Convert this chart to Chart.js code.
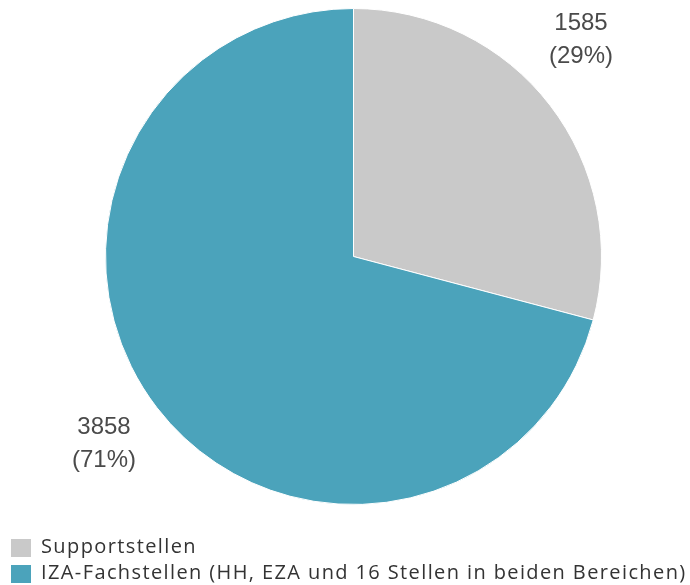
<!DOCTYPE html>
<html>
<head>
<meta charset="utf-8">
<script src="https://cdn.jsdelivr.net/npm/chart.js@4.4.1/dist/chart.umd.min.js"></script>
<style>
  html, body { margin: 0; padding: 0; background: #fff; }
  #wrap { width: 690px; height: 585px; position: relative; }
</style>
</head>
<body>
<div id="wrap"><canvas id="pie" width="690" height="585"></canvas></div>
<script>
const categories = ['Supportstellen', 'IZA-Fachstellen (HH, EZA und 16 Stellen in beiden Bereichen)'];
const counts = [1585, 3858];
const percentLabels = ['(29%)', '(71%)'];
const sliceColors = ['#c9c9c9', '#4ba3bb'];

// value labels outside each slice, placed along the slice's mid angle
const outsideLabels = {
  id: 'outsideLabels',
  afterDatasetsDraw(chart, args, opts) {
    const ctx = chart.ctx;
    const meta = chart.getDatasetMeta(0);
    ctx.save();
    ctx.font = '24px "Liberation Sans", Arial, sans-serif';
    ctx.fillStyle = '#4a4a4a';
    ctx.textAlign = 'center';
    ctx.textBaseline = 'middle';
    meta.data.forEach((arc, i) => {
      const p = arc.getProps(['x', 'y', 'startAngle', 'endAngle', 'outerRadius'], true);
      const mid = (p.startAngle + p.endAngle) / 2;
      const r = p.outerRadius * opts.distance;
      const nudge = opts.nudge[i];
      const x = p.x + Math.cos(mid) * r + nudge[0];
      const y = p.y + Math.sin(mid) * r + nudge[1];
      ctx.fillText(String(counts[i]), x, y - 16.5);
      ctx.fillText(percentLabels[i], x, y + 16.5);
    });
    ctx.restore();
  }
};

// simple stacked legend in the lower left corner
const stackedLegend = {
  id: 'stackedLegend',
  afterDraw(chart, args, opts) {
    const ctx = chart.ctx;
    const labels = chart.data.labels;
    ctx.save();
    ctx.font = opts.font;
    // open the tracking a bit so the longest entry fills the row
    const longest = Math.max(...labels.map(l => ctx.measureText(l).width));
    const maxChars = Math.max(...labels.map(l => l.length));
    ctx.letterSpacing = Math.max(0, (opts.rowWidth - longest) / (maxChars - 1)).toFixed(2) + 'px';
    ctx.textBaseline = 'alphabetic';
    ctx.textAlign = 'left';
    labels.forEach((label, i) => {
      const top = 539 + i * 26;
      ctx.fillStyle = chart.data.datasets[0].backgroundColor[i];
      ctx.fillRect(11, top, 20, 18);
      ctx.fillStyle = '#333';
      ctx.fillText(label, 41, top + 14);
    });
    ctx.restore();
  }
};

new Chart(document.getElementById('pie'), {
  type: 'pie',
  data: {
    labels: categories,
    datasets: [{
      data: counts,
      backgroundColor: sliceColors,
      borderColor: '#ffffff',
      borderWidth: 1
    }]
  },
  options: {
    responsive: false,
    animation: false,
    layout: { padding: { left: 105, right: 88, top: 8, bottom: 80 } },
    plugins: {
      legend: { display: false },
      tooltip: { enabled: false },
      outsideLabels: { distance: 1.3, nudge: [[-28, -20], [6, -9]] },
      stackedLegend: { font: '20px "Open Sans"', rowWidth: 644 }
    }
  },
  plugins: [outsideLabels, stackedLegend]
});
</script>
</body>
</html>
